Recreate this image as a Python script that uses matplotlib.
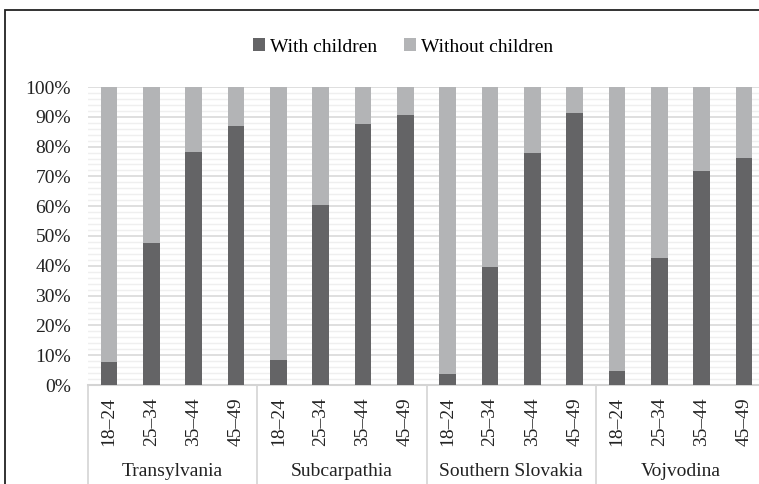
import matplotlib
matplotlib.use("Agg")
import matplotlib.pyplot as plt
import numpy as np
from matplotlib.lines import Line2D
from matplotlib.patches import Rectangle
from matplotlib.ticker import MultipleLocator, PercentFormatter

regions = ["Transylvania", "Subcarpathia", "Southern Slovakia", "Vojvodina"]
ages = ["18–24", "25–34", "35–44", "45–49"]

# share of respondents with children, per region and age group (%)
with_children = [
    [7.8, 47.5, 78.3, 86.9],
    [8.4, 60.5, 87.5, 90.6],
    [3.8, 39.7, 77.7, 91.3],
    [4.8, 42.6, 71.8, 76.3],
]

dark = "#646466"
light = "#b3b4b6"
fs = 14

plt.rcParams["font.family"] = ["Liberation Serif", "DejaVu Serif"]
plt.rcParams["font.size"] = fs

fig = plt.figure(figsize=(7.59, 4.84), dpi=100)
ax = fig.add_axes([87.8 / 759, 1 - 385 / 484, 677.4 / 759, 298 / 484])

vals = np.array(with_children).ravel()
rest = 100 - vals
x = np.arange(len(vals))
ax.bar(x, vals, width=0.4, color=dark, label="With children", zorder=3)
ax.bar(x, rest, width=0.4, bottom=vals, color=light, label="Without children", zorder=3)

ax.set_xlim(-0.5, len(vals) - 0.5)
ax.set_ylim(0, 100)
ax.yaxis.set_major_locator(MultipleLocator(10))
ax.yaxis.set_minor_locator(MultipleLocator(2))
ax.yaxis.set_major_formatter(PercentFormatter(decimals=0))
ax.grid(axis="y", which="major", color="#d9d9d9", linewidth=1.2, zorder=0)
ax.grid(axis="y", which="minor", color="#efefef", linewidth=1.0, zorder=0)
ax.tick_params(axis="y", which="both", length=0, pad=12, labelsize=fs, colors="#222222")

ax.set_xticks(x)
ax.set_xticklabels(ages * len(regions), rotation=90)
ax.tick_params(axis="x", length=0, pad=9, labelsize=fs, colors="#222222")

for s in ["top", "right", "left"]:
    ax.spines[s].set_visible(False)
ax.spines["bottom"].set_color("#d4d4d4")
ax.spines["bottom"].set_linewidth(1.5)

# group dividers and region names under the age labels
trans = ax.get_xaxis_transform()
for i in range(len(regions) + 1):
    xd = i * len(ages) - 0.5
    ax.add_line(Line2D([xd, xd], [0, -0.36], transform=trans, color="#d4d4d4",
                       linewidth=1.2, clip_on=False))
for i, r in enumerate(regions):
    xc = i * len(ages) + (len(ages) - 1) / 2
    ax.text(xc, -86 / 298, r, transform=trans, ha="center", va="center",
            fontsize=fs, color="#222222")

fig.legend(loc="center", bbox_to_anchor=(403 / 759, 1 - 47 / 484), ncol=2,
           frameon=False, handlelength=0.6, handleheight=0.6, handletextpad=0.25,
           columnspacing=1.4, fontsize=fs)

# outer frame of the chart
fig.patches.append(Rectangle((5 / 759, -0.1), 1.2, 1 - 10 / 484 + 0.1,
                             transform=fig.transFigure, fill=False,
                             edgecolor="#222222", linewidth=1.3))

fig.savefig("out.png", dpi=100)
